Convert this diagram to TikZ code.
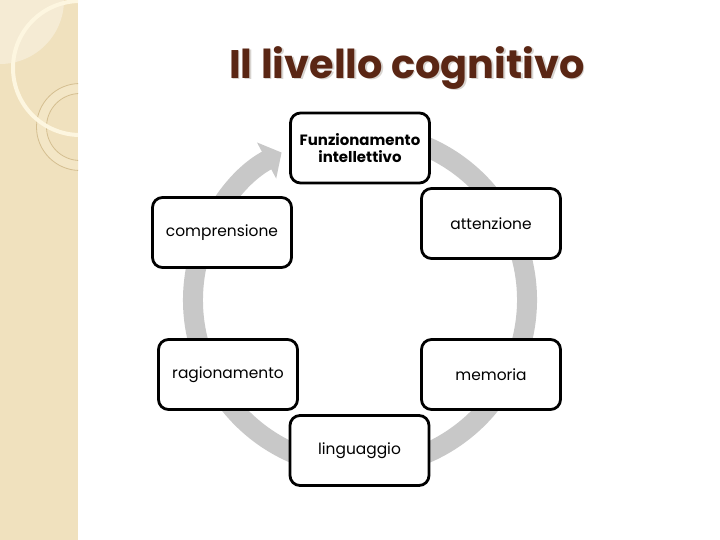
\documentclass[tikz,border=0pt]{standalone}
\usepackage{fontspec}
\setmainfont{Poppins}
\usetikzlibrary{arrows.meta}
\definecolor{stripc}{HTML}{F0E1BE}
\definecolor{stripl}{HTML}{F5EBD4}
\definecolor{creamc}{HTML}{FDF6E0}
\definecolor{loopc}{HTML}{D4BE90}
\definecolor{bandc}{HTML}{F3E6C6}
\definecolor{ringc}{HTML}{C8C8C8}
\definecolor{titlec}{HTML}{5A2614}
\definecolor{shadc}{HTML}{D8D4D0}
\tikzset{
  box/.style={draw=black, fill=white, line width=2.8bp, rounded corners=10bp,
              minimum width=139bp, minimum height=70bp, align=center, inner sep=2bp,
              font=\fontsize{15.5}{17}\selectfont},
  boxb/.style={box, font=\fontsize{15}{17}\selectfont\bfseries},
  ring/.style={draw=ringc, line width=20bp, -{Triangle[length=17bp,width=40bp]}},
  ttl/.style={font=\fontsize{40}{46}\selectfont\bfseries, text=titlec, inner sep=0pt},
  ttlshadow/.style={ttl, text=shadc},
}

\begin{document}
\begin{tikzpicture}[x=1bp, y=1bp]
\useasboundingbox (0,0) rectangle (720,540);
% the decorated strip on the left
\fill[stripc] (0,0) rectangle (78,540);
\begin{scope}
  \clip (0,0) rectangle (78,540);
  \fill[stripl] (0,540) circle[radius=64];
  \fill[bandc, even odd rule] (80,413) circle[radius=43.5] (80,413) circle[radius=33.5];
  \draw[loopc, line width=0.8bp] (80,413) circle[radius=43.5];
  \draw[loopc, line width=0.8bp] (80,413) circle[radius=33.5];
  \draw[creamc, line width=4bp] (80,472) circle[radius=67];
\end{scope}
% title
\node[ttlshadow] at (408.5,470.5) {Il livello cognitivo};
\node[ttl] (title) at (407,472) {Il livello cognitivo};
% the cycle
\draw[ring] (360,240) ++(80:167) arc[start angle=80, end angle=-242, radius=167];
\node[boxb] (funz) at (360,392) {Funzionamento\\intellettivo};
\node[box] (att) at (491,316.5) {attenzione};
\node[box] (comp) at (222,307.5) {comprensione};
\node[box] (rag) at (228,165.5) {ragionamento};
\node[box] (mem) at (491,165.5) {memoria};
\node[box] (ling) at (359.5,89.5) {linguaggio};
\end{tikzpicture}
\end{document}
